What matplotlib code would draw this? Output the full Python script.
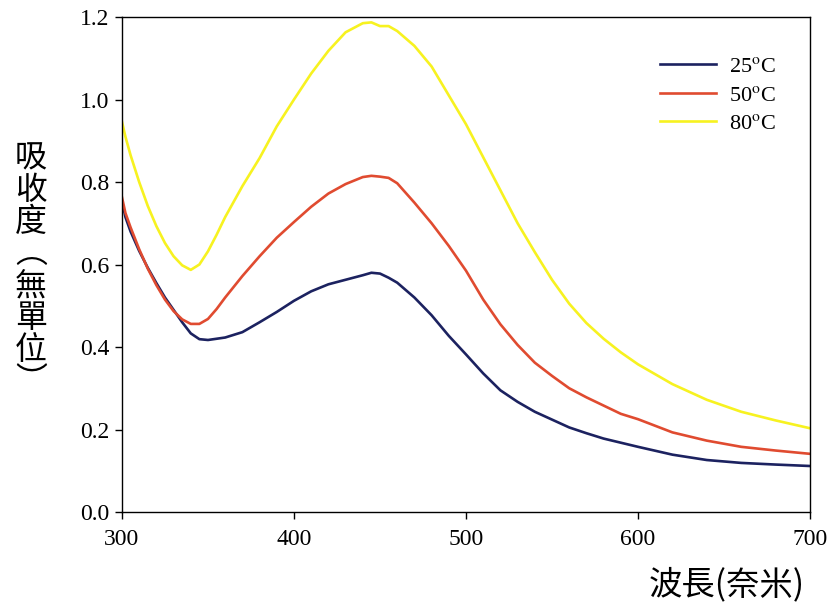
import numpy as np
import matplotlib
matplotlib.use("Agg")
import matplotlib.pyplot as plt

# wavelength (nm) and absorbance
wavelength = [300, 302, 305, 310, 315, 320, 325, 330, 335, 340, 345, 350, 355,
              360, 370, 380, 390, 400, 410, 420, 430, 440, 445, 450, 455, 460,
              470, 480, 490, 500, 510, 520, 530, 540, 550, 560, 570, 580, 590,
              600, 620, 640, 660, 680, 700]

abs_25 = [0.754, 0.715, 0.680, 0.633, 0.592, 0.555, 0.520, 0.490, 0.460, 0.433,
          0.419, 0.417, 0.420, 0.423, 0.436, 0.460, 0.485, 0.512, 0.535, 0.552,
          0.563, 0.574, 0.580, 0.578, 0.568, 0.556, 0.520, 0.477, 0.427, 0.382,
          0.336, 0.295, 0.267, 0.243, 0.224, 0.205, 0.191, 0.178, 0.168, 0.158,
          0.139, 0.126, 0.119, 0.115, 0.1115]

abs_50 = [0.763, 0.725, 0.690, 0.637, 0.590, 0.550, 0.515, 0.487, 0.467, 0.456,
          0.456, 0.468, 0.492, 0.520, 0.572, 0.620, 0.665, 0.703, 0.740, 0.772,
          0.795, 0.812, 0.815, 0.813, 0.810, 0.797, 0.750, 0.700, 0.645, 0.585,
          0.515, 0.455, 0.405, 0.362, 0.330, 0.300, 0.278, 0.258, 0.238, 0.225,
          0.193, 0.173, 0.158, 0.149, 0.141]

abs_80 = [0.946, 0.910, 0.865, 0.800, 0.742, 0.693, 0.652, 0.620, 0.598, 0.587,
          0.600, 0.632, 0.672, 0.715, 0.790, 0.858, 0.935, 1.000, 1.063, 1.118,
          1.163, 1.185, 1.187, 1.178, 1.178, 1.166, 1.130, 1.080, 1.010, 0.940,
          0.860, 0.780, 0.700, 0.630, 0.563, 0.505, 0.458, 0.420, 0.387, 0.358,
          0.310, 0.272, 0.243, 0.222, 0.203]

labels = ["25$^\\mathrm{o}$C", "50$^\\mathrm{o}$C", "80$^\\mathrm{o}$C"]
colors = ["#1c2260", "#e04b30", "#f7f220"]

plt.rcParams["font.family"] = ["Liberation Serif", "DejaVu Serif"]
plt.rcParams["mathtext.fontset"] = "stix"

fig = plt.figure(figsize=(8.32, 6.12), dpi=100)
ax = fig.add_axes([0.1466, 0.1634, 0.827, 0.8088])

for y, lab, c in zip([abs_25, abs_50, abs_80], labels, colors):
    ax.plot(wavelength, y, color=c, lw=1.9, label=lab)

ax.set_xlim(300, 700)
ax.set_ylim(0, 1.2)
ax.set_xticks([300, 400, 500, 600, 700])
ax.set_yticks(np.arange(0, 1.21, 0.2))
ax.set_yticklabels([f"{v:.1f}" for v in np.arange(0, 1.21, 0.2)])
ax.tick_params(direction="out", length=5, width=1, labelsize=17)
ax.tick_params(axis="x", pad=7)
ax.tick_params(axis="y", pad=4)
for s in ax.spines.values():
    s.set_linewidth(1.0)

ax.legend(loc="upper left", bbox_to_anchor=(0.782, 0.92), frameon=False,
          fontsize=16, handlelength=2.5, handletextpad=0.6, labelspacing=0.35,
          borderpad=0, borderaxespad=0)

cjk = ["Noto Sans CJK TC", "DejaVu Sans"]
fig.text(31 / 832, 1 - 270 / 612, "\n".join("吸收度︵無單位︶"), family=cjk,
         fontsize=23, ha="center", va="center", linespacing=1.0)
fig.text(805 / 832, 1 - 585 / 612, "波長(奈米)", family=cjk, fontsize=24,
         ha="right", va="center")

fig.savefig("out.png", dpi=100)
